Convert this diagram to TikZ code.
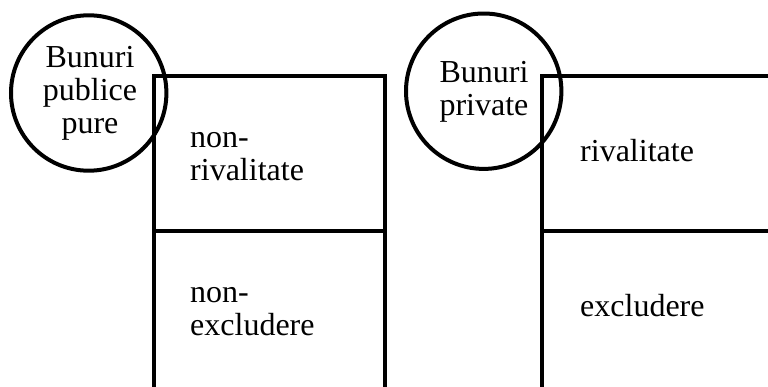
\documentclass[tikz,border=0pt]{standalone}
\usepackage{fontspec}
\setmainfont{Liberation Serif}
\newfontfamily\timesfont{Liberation Serif}
\begin{document}
\begin{tikzpicture}[x=1pt,y=-1pt,
  frame/.style={line width=4pt, line join=miter},
  ring/.style={circle, draw, line width=4pt, minimum size=155.4pt, inner sep=0pt},
  lbl/.style={font=\timesfont\fontsize{32}{33}\selectfont, inner sep=0pt, align=left, anchor=base west},
  ctr/.style={font=\timesfont\fontsize{32}{33}\selectfont, inner sep=0pt, align=center, anchor=base},
]
\useasboundingbox (0,0) rectangle (768,386);
\begin{scope}
  \clip (0,0) rectangle (768,386);
  % public goods: two stacked cells
  \draw[frame] (153.5,400) -- (153.5,75.5) -- (384.5,75.5) -- (384.5,400);
  \draw[frame] (153.5,231) -- (384.5,231);
  % private goods: two stacked cells running off the right edge
  \draw[frame] (541.5,400) -- (541.5,75.5) -- (780,75.5);
  \draw[frame] (541.5,231) -- (780,231);
\end{scope}

% cell texts (anchored at the baseline of the last line)
\node[lbl] (nonriv) at (190,180) {non-\\rivalitate};
\node[lbl] (nonexc) at (190,335) {non-\\excludere};
\node[lbl] (riv) at (580,161.7) {rivalitate};
\node[lbl] (exc) at (580,316.7) {excludere};

% circled headings
\node[ring] (pub) at (88.7,93) {};
\node[ctr] (pubtxt) at (90,133) {Bunuri\\publice\\pure};
\node[ring] (priv) at (483.7,91.2) {};
\node[ctr] (privtxt) at (484,115.5) {Bunuri\\private};
\end{tikzpicture}
\end{document}
